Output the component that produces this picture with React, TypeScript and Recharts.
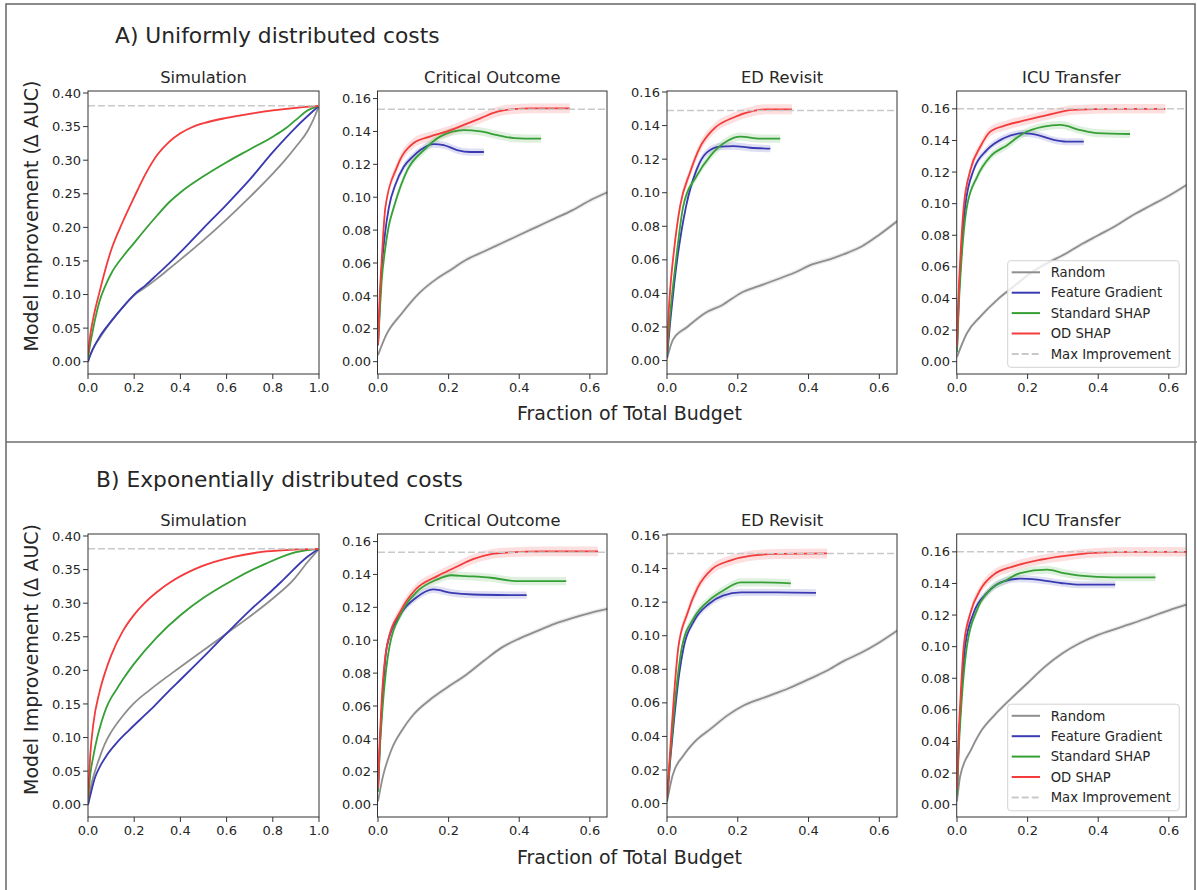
import React from 'react';
import { ComposedChart, Line, Area, XAxis, YAxis, ReferenceLine } from 'recharts';

type Pt = [number, number];

// ---------- Tick labels / axes ----------
const simYTicks = [0, 0.05, 0.1, 0.15, 0.2, 0.25, 0.3, 0.35, 0.4];
const simXTicks = [0, 0.2, 0.4, 0.6, 0.8, 1.0];
const realYTicks = [0, 0.02, 0.04, 0.06, 0.08, 0.1, 0.12, 0.14, 0.16];
const realXTicks = [0, 0.2, 0.4, 0.6];
const panelTitles = ['Simulation', 'Critical Outcome', 'ED Revisit', 'ICU Transfer'];
const legendLabels = ['Random', 'Feature Gradient', 'Standard SHAP', 'OD SHAP', 'Max Improvement'];
const maxImprovement = [0.381, 0.1535, 0.149, 0.16];

// ---------- A) Uniform costs ----------
const simA_random: Pt[] = [[0, 0], [0.01, 0.01], [0.02, 0.018], [0.05, 0.035], [0.1, 0.06], [0.15, 0.081], [0.2, 0.099], [0.25, 0.111], [0.3, 0.124], [0.35, 0.138], [0.4, 0.152], [0.5, 0.181], [0.6, 0.212], [0.7, 0.245], [0.8, 0.28], [0.85, 0.299], [0.9, 0.32], [0.95, 0.343], [0.975, 0.36], [1, 0.381]];
const simA_fg: Pt[] = [[0, 0], [0.01, 0.01], [0.02, 0.018], [0.05, 0.037], [0.1, 0.06], [0.15, 0.081], [0.2, 0.1], [0.25, 0.114], [0.3, 0.13], [0.35, 0.146], [0.4, 0.163], [0.5, 0.199], [0.6, 0.234], [0.7, 0.271], [0.8, 0.312], [0.9, 0.349], [1, 0.381]];
const simA_ss: Pt[] = [[0, 0.005], [0.01, 0.027], [0.02, 0.045], [0.03, 0.062], [0.05, 0.09], [0.075, 0.113], [0.1, 0.131], [0.15, 0.156], [0.2, 0.177], [0.25, 0.198], [0.3, 0.218], [0.35, 0.237], [0.4, 0.252], [0.5, 0.276], [0.6, 0.297], [0.7, 0.316], [0.8, 0.335], [0.85, 0.346], [0.9, 0.36], [0.95, 0.374], [1, 0.381]];
const simA_od: Pt[] = [[0, 0.01], [0.01, 0.04], [0.02, 0.06], [0.05, 0.104], [0.1, 0.166], [0.15, 0.208], [0.2, 0.245], [0.25, 0.28], [0.3, 0.308], [0.35, 0.327], [0.4, 0.34], [0.45, 0.349], [0.5, 0.355], [0.6, 0.363], [0.7, 0.369], [0.8, 0.374], [0.9, 0.378], [1, 0.381]];

const critA_random: Pt[] = [[0, 0.004], [0.025, 0.017], [0.066, 0.029], [0.116, 0.0415], [0.167, 0.0505], [0.2, 0.055], [0.25, 0.062], [0.3, 0.067], [0.35, 0.072], [0.4, 0.077], [0.45, 0.082], [0.5, 0.087], [0.55, 0.092], [0.6, 0.098], [0.65, 0.103]];
const critA_fg: Pt[] = [[0, 0.01], [0.005, 0.035], [0.01, 0.055], [0.02, 0.078], [0.031, 0.094], [0.05, 0.108], [0.073, 0.1185], [0.1, 0.125], [0.12, 0.1287], [0.158, 0.1323], [0.186, 0.1317], [0.224, 0.1287], [0.262, 0.1275], [0.3, 0.1275]];
const critA_ss: Pt[] = [[0, 0.01], [0.005, 0.03], [0.01, 0.048], [0.02, 0.068], [0.03, 0.082], [0.045, 0.094], [0.083, 0.1165], [0.13, 0.1287], [0.177, 0.137], [0.243, 0.1408], [0.29, 0.14], [0.338, 0.1378], [0.385, 0.136], [0.462, 0.1356]];
const critA_od: Pt[] = [[0, 0.01], [0.005, 0.04], [0.01, 0.06], [0.021, 0.094], [0.054, 0.1185], [0.101, 0.133], [0.149, 0.137], [0.196, 0.14], [0.243, 0.144], [0.29, 0.148], [0.338, 0.152], [0.385, 0.1536], [0.432, 0.154], [0.543, 0.154]];

const edA_random: Pt[] = [[0, 0.001], [0.017, 0.0125], [0.057, 0.02], [0.108, 0.0284], [0.158, 0.0333], [0.209, 0.0403], [0.259, 0.0443], [0.31, 0.0483], [0.36, 0.0523], [0.41, 0.0573], [0.462, 0.0605], [0.513, 0.0645], [0.55, 0.068], [0.6, 0.075], [0.65, 0.083]];
const edA_fg: Pt[] = [[0, 0.002], [0.01, 0.025], [0.02, 0.045], [0.03, 0.062], [0.04, 0.076], [0.054, 0.092], [0.084, 0.1139], [0.112, 0.1239], [0.15, 0.1275], [0.188, 0.1278], [0.235, 0.1268], [0.292, 0.1263]];
const edA_ss: Pt[] = [[0, 0.003], [0.01, 0.03], [0.02, 0.05], [0.03, 0.068], [0.046, 0.092], [0.084, 0.11], [0.122, 0.1218], [0.17, 0.1308], [0.207, 0.1334], [0.263, 0.1322], [0.32, 0.1322]];
const edA_od: Pt[] = [[0, 0.005], [0.005, 0.03], [0.01, 0.045], [0.02, 0.066], [0.037, 0.092], [0.065, 0.112], [0.093, 0.127], [0.131, 0.1378], [0.188, 0.1448], [0.244, 0.1487], [0.282, 0.1497], [0.353, 0.1497]];

const icuA_random: Pt[] = [[0, 0.003], [0.028, 0.018], [0.066, 0.0285], [0.113, 0.039], [0.16, 0.0475], [0.208, 0.056], [0.255, 0.0623], [0.31, 0.0686], [0.35, 0.074], [0.4, 0.08], [0.45, 0.086], [0.5, 0.093], [0.55, 0.099], [0.6, 0.105], [0.65, 0.1118]];
const icuA_fg: Pt[] = [[0, 0.008], [0.005, 0.04], [0.01, 0.06], [0.023, 0.098], [0.047, 0.1213], [0.085, 0.134], [0.132, 0.1414], [0.189, 0.1446], [0.227, 0.1435], [0.274, 0.1403], [0.31, 0.1392], [0.359, 0.1392]];
const icuA_ss: Pt[] = [[0, 0.006], [0.005, 0.035], [0.01, 0.055], [0.028, 0.098], [0.057, 0.117], [0.094, 0.1297], [0.142, 0.137], [0.189, 0.1446], [0.245, 0.1487], [0.293, 0.1498], [0.349, 0.1466], [0.397, 0.1446], [0.49, 0.1441]];
const icuA_od: Pt[] = [[0, 0.01], [0.005, 0.045], [0.01, 0.068], [0.019, 0.098], [0.038, 0.1213], [0.066, 0.136], [0.094, 0.1456], [0.142, 0.1498], [0.198, 0.153], [0.255, 0.1561], [0.33, 0.1593], [0.444, 0.16], [0.59, 0.16]];

// ---------- B) Exponential costs ----------
const simB_random: Pt[] = [[0, 0], [0.016, 0.032], [0.035, 0.055], [0.052, 0.072], [0.075, 0.092], [0.1, 0.108], [0.15, 0.132], [0.196, 0.15], [0.268, 0.171], [0.4, 0.205], [0.5, 0.23], [0.6, 0.255], [0.7, 0.28], [0.8, 0.307], [0.89, 0.335], [0.95, 0.361], [1, 0.381]];
const simB_fg: Pt[] = [[0, 0], [0.009, 0.0125], [0.03, 0.04], [0.052, 0.057], [0.08, 0.073], [0.124, 0.092], [0.175, 0.11], [0.225, 0.1265], [0.29, 0.148], [0.355, 0.171], [0.4, 0.186], [0.5, 0.22], [0.6, 0.255], [0.7, 0.289], [0.8, 0.32], [0.846, 0.335], [0.946, 0.368], [1, 0.381]];
const simB_ss: Pt[] = [[0, 0.005], [0.01, 0.045], [0.023, 0.072], [0.04, 0.1], [0.06, 0.125], [0.08, 0.145], [0.1, 0.159], [0.124, 0.172], [0.15, 0.186], [0.2, 0.21], [0.3, 0.25], [0.4, 0.282], [0.5, 0.308], [0.63, 0.335], [0.77, 0.359], [0.9, 0.376], [1, 0.381]];
const simB_od: Pt[] = [[0, 0.01], [0.01, 0.075], [0.023, 0.12], [0.05, 0.168], [0.075, 0.198], [0.1, 0.222], [0.15, 0.258], [0.2, 0.283], [0.25, 0.302], [0.3, 0.317], [0.37, 0.334], [0.485, 0.354], [0.63, 0.369], [0.77, 0.377], [0.9, 0.38], [1, 0.381]];

const critB_random: Pt[] = [[0, 0.002], [0.014, 0.0172], [0.038, 0.0334], [0.069, 0.0456], [0.1, 0.0547], [0.147, 0.0638], [0.194, 0.071], [0.25, 0.079], [0.3, 0.0875], [0.35, 0.0955], [0.4, 0.101], [0.45, 0.1055], [0.5, 0.11], [0.55, 0.1135], [0.6, 0.1165], [0.65, 0.119]];
const critB_fg: Pt[] = [[0, 0.008], [0.005, 0.035], [0.01, 0.055], [0.025, 0.096], [0.066, 0.1165], [0.107, 0.1257], [0.157, 0.1309], [0.208, 0.1288], [0.269, 0.1278], [0.421, 0.1274]];
const critB_ss: Pt[] = [[0, 0.008], [0.005, 0.033], [0.01, 0.05], [0.03, 0.093], [0.066, 0.1165], [0.107, 0.1288], [0.168, 0.137], [0.208, 0.1395], [0.249, 0.139], [0.32, 0.138], [0.391, 0.136], [0.533, 0.136]];
const critB_od: Pt[] = [[0, 0.01], [0.005, 0.04], [0.01, 0.062], [0.025, 0.096], [0.066, 0.1186], [0.107, 0.131], [0.168, 0.139], [0.218, 0.1442], [0.269, 0.1493], [0.32, 0.1524], [0.371, 0.1534], [0.472, 0.154], [0.623, 0.154]];

const edB_random: Pt[] = [[0, 0.001], [0.016, 0.0169], [0.047, 0.0288], [0.078, 0.0368], [0.125, 0.0448], [0.172, 0.0527], [0.219, 0.0587], [0.282, 0.0637], [0.344, 0.0687], [0.4, 0.074], [0.45, 0.079], [0.5, 0.085], [0.55, 0.09], [0.6, 0.096], [0.65, 0.103]];
const edB_fg: Pt[] = [[0, 0.002], [0.01, 0.028], [0.02, 0.05], [0.035, 0.078], [0.047, 0.093], [0.077, 0.109], [0.118, 0.1189], [0.158, 0.1239], [0.209, 0.1258], [0.31, 0.1258], [0.421, 0.1255]];
const edB_ss: Pt[] = [[0, 0.002], [0.01, 0.03], [0.02, 0.055], [0.03, 0.075], [0.042, 0.093], [0.077, 0.111], [0.118, 0.1209], [0.158, 0.1268], [0.209, 0.1318], [0.259, 0.1318], [0.35, 0.1312]];
const edB_od: Pt[] = [[0, 0.003], [0.01, 0.035], [0.02, 0.065], [0.032, 0.093], [0.057, 0.113], [0.087, 0.1288], [0.128, 0.1398], [0.178, 0.1447], [0.239, 0.1477], [0.31, 0.1487], [0.452, 0.149]];

const icuB_random: Pt[] = [[0, 0.002], [0.009, 0.018], [0.04, 0.0348], [0.071, 0.0475], [0.103, 0.0559], [0.15, 0.0665], [0.2, 0.077], [0.25, 0.0875], [0.3, 0.096], [0.35, 0.1025], [0.4, 0.1075], [0.45, 0.1113], [0.5, 0.115], [0.55, 0.119], [0.6, 0.123], [0.65, 0.1266]];
const icuB_fg: Pt[] = [[0, 0.008], [0.005, 0.04], [0.01, 0.06], [0.023, 0.1002], [0.047, 0.1213], [0.085, 0.134], [0.132, 0.1413], [0.179, 0.143], [0.227, 0.1424], [0.293, 0.1403], [0.349, 0.1392], [0.448, 0.1392]];
const icuB_ss: Pt[] = [[0, 0.006], [0.005, 0.035], [0.01, 0.055], [0.028, 0.1002], [0.057, 0.1234], [0.094, 0.136], [0.142, 0.1424], [0.179, 0.1466], [0.255, 0.1487], [0.302, 0.1466], [0.349, 0.1449], [0.444, 0.1439], [0.562, 0.1439]];
const icuB_od: Pt[] = [[0, 0.01], [0.005, 0.045], [0.01, 0.068], [0.019, 0.1002], [0.038, 0.1213], [0.066, 0.136], [0.104, 0.1456], [0.16, 0.1508], [0.236, 0.155], [0.312, 0.1576], [0.387, 0.1593], [0.5, 0.16], [0.65, 0.16]];

// band half-widths (confidence shading)
const simBands = [0.0015, 0.0015, 0.0015, 0.0015];
const realBands = [0.0015, 0.0022, 0.0025, 0.003];

// ---------- styling / layout ----------
const FONT = '"DejaVu Sans", Verdana, sans-serif';
const TEXT = '#262626';
const SPINE = '#333333';
const SERIES_KEYS = ['random', 'fg', 'ss', 'od'] as const;
const COLORS = ['#8e8e8e', '#3a3ab2', '#35a035', '#f43a3a'];
const MAX_COLOR = '#c9c9c9';

const colLeft = [88, 377.5, 667, 956.7];
const colWidth = [231, 229.5, 230, 229.5];
const rowTop = [91, 534];
const PLOT_H = 283;
const yDomains: [number, number][] = [[-0.0183, 0.403], [-0.0075, 0.1646], [-0.008, 0.1606], [-0.0078, 0.1713]];

const rowSeries: Pt[][][][] = [
  [
    [simA_random, simA_fg, simA_ss, simA_od],
    [critA_random, critA_fg, critA_ss, critA_od],
    [edA_random, edA_fg, edA_ss, edA_od],
    [icuA_random, icuA_fg, icuA_ss, icuA_od],
  ],
  [
    [simB_random, simB_fg, simB_ss, simB_od],
    [critB_random, critB_fg, critB_ss, critB_od],
    [edB_random, edB_fg, edB_ss, edB_od],
    [icuB_random, icuB_fg, icuB_ss, icuB_od],
  ],
];

const YW = 60;
const XH = 32;
const MT = 12;
const MR = 18;

function toRows(pts: Pt[], w: number) {
  return pts.map(([x, y]) => ({ x, y, band: [y - w, y + w] }));
}

function Panel({ row, col }: { row: number; col: number }) {
  const left = colLeft[col];
  const width = colWidth[col];
  const top = rowTop[row];
  const isSim = col === 0;
  const series = rowSeries[row][col];
  const bands = isSim ? simBands : realBands;
  const tickStyle = { fill: TEXT, fontSize: 13, fontFamily: FONT };
  return (
    <div style={{ position: 'absolute', left: left - YW, top: top - MT }}>
      <ComposedChart width={width + YW + MR} height={PLOT_H + XH + MT} margin={{ top: MT, right: MR, bottom: 0, left: 0 }}>
        <XAxis
          type="number"
          dataKey="x"
          domain={isSim ? [0, 1] : [0, 0.65]}
          ticks={isSim ? simXTicks : realXTicks}
          allowDataOverflow
          interval={0}
          height={XH}
          axisLine={false}
          tickLine={{ stroke: SPINE }}
          tickSize={5}
          tickMargin={4}
          tick={tickStyle}
          tickFormatter={(v: number) => v.toFixed(1)}
        />
        <YAxis
          type="number"
          domain={yDomains[col]}
          ticks={isSim ? simYTicks : realYTicks}
          allowDataOverflow
          interval={0}
          width={YW}
          axisLine={false}
          tickLine={{ stroke: SPINE }}
          tickSize={5}
          tickMargin={2}
          tick={tickStyle}
          tickFormatter={(v: number) => v.toFixed(2)}
        />
        {series.map((pts, i) => (
          <Area
            key={'band-' + SERIES_KEYS[i]}
            data={toRows(pts, bands[i])}
            dataKey="band"
            type="monotone"
            stroke="none"
            fill={COLORS[i]}
            fillOpacity={0.16}
            dot={false}
            activeDot={false}
            isAnimationActive={false}
          />
        ))}
        {series.map((pts, i) => (
          <Line
            key={'line-' + SERIES_KEYS[i]}
            data={toRows(pts, bands[i])}
            dataKey="y"
            type="monotone"
            stroke={COLORS[i]}
            strokeWidth={1.8}
            dot={false}
            activeDot={false}
            isAnimationActive={false}
          />
        ))}
        <ReferenceLine y={maxImprovement[col]} stroke={MAX_COLOR} strokeWidth={1.5} strokeDasharray="7 3" />
      </ComposedChart>
    </div>
  );
}

function LegendBox({ top }: { top: number }) {
  const x = 1007.7;
  const w = 171.5;
  const h = 106.6;
  const rowGap = 20.4;
  const handleColors = [...COLORS, MAX_COLOR];
  return (
    <g>
      <rect x={x} y={top} width={w} height={h} rx={3} ry={3} fill="#ffffff" fillOpacity={0.8} stroke="#d3d3d3" strokeWidth={1} />
      {legendLabels.map((lab, i) => {
        const cy = top + 11.6 + i * rowGap;
        return (
          <g key={lab}>
            <line
              x1={x + 4}
              x2={x + 32.3}
              y1={cy}
              y2={cy}
              stroke={handleColors[i]}
              strokeWidth={2}
              strokeDasharray={i === 4 ? '7 3' : undefined}
            />
            <text x={x + 43} y={cy + 4.7} fontSize={13.2} fontFamily={FONT} fill={TEXT}>
              {lab}
            </text>
          </g>
        );
      })}
    </g>
  );
}

export default function App() {
  const rowOffsets = [0, 443.5];
  return (
    <div style={{ position: 'absolute', left: 0, top: 0, width: 1197, height: 890, background: '#fff', overflow: 'hidden' }}>
      {[0, 1].map((r) => [0, 1, 2, 3].map((c) => <Panel key={r + '-' + c} row={r} col={c} />))}
      <svg width={1197} height={890} style={{ position: 'absolute', left: 0, top: 0, pointerEvents: 'none' }}>
        <rect x={6} y={4} width={1189} height={1000} fill="none" stroke="#6e6e6e" strokeWidth={1.6} />
        <line x1={6} x2={1197} y1={442} y2={442} stroke="#6e6e6e" strokeWidth={1.6} />
        <text x={115} y={43} fontSize={21.8} fontFamily={FONT} fill={TEXT}>A) Uniformly distributed costs</text>
        <text x={96} y={487} fontSize={21.8} fontFamily={FONT} fill={TEXT}>B) Exponentially distributed costs</text>
        {[0, 1].map((r) => (
          <g key={'row' + r}>
            {panelTitles.map((t, c) => (
              <text key={t} x={colLeft[c] + colWidth[c] / 2} y={rowTop[r] - 8} textAnchor="middle" fontSize={16.3} fontFamily={FONT} fill={TEXT}>
                {t}
              </text>
            ))}
            {colLeft.map((l, c) => (
              <rect key={'sp' + c} x={l} y={rowTop[r]} width={colWidth[c]} height={PLOT_H} fill="none" stroke={SPINE} strokeWidth={1} />
            ))}
            <text
              x={37.5}
              y={216 + rowOffsets[r]}
              transform={`rotate(-90 37.5 ${216 + rowOffsets[r]})`}
              textAnchor="middle"
              fontSize={19}
              fontFamily={FONT}
              fill={TEXT}
            >
              Model Improvement (Δ AUC)
            </text>
            <text x={629.5} y={420 + rowOffsets[r]} textAnchor="middle" fontSize={19} fontFamily={FONT} fill={TEXT}>
              Fraction of Total Budget
            </text>
            <LegendBox top={260.7 + rowOffsets[r]} />
          </g>
        ))}
      </svg>
    </div>
  );
}
